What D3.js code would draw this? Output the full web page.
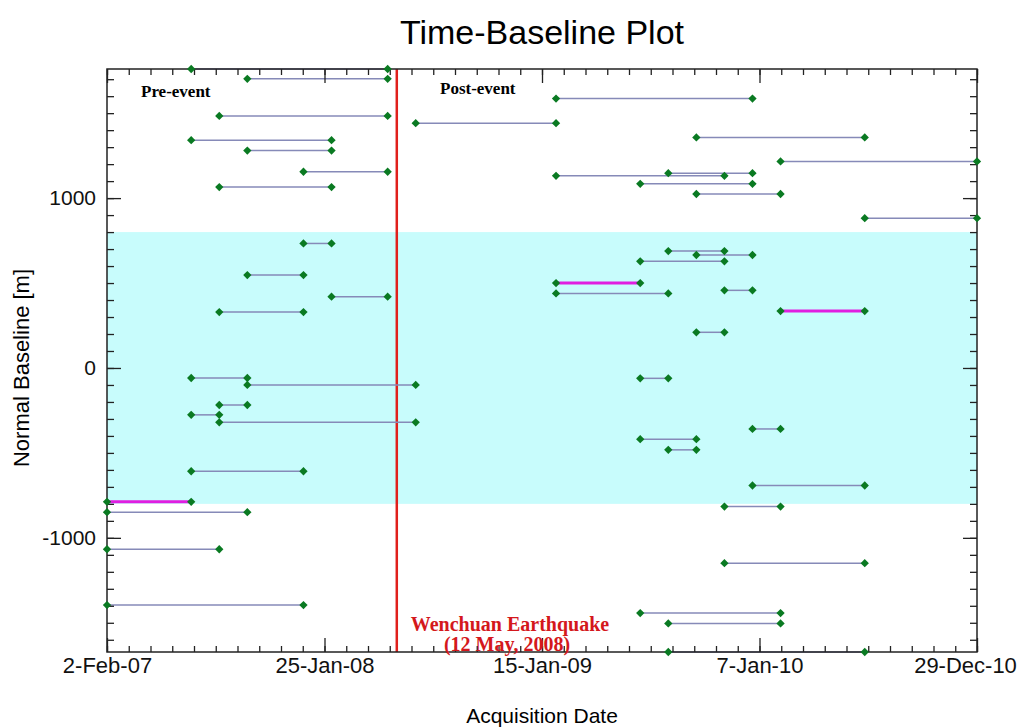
<!DOCTYPE html>
<html>
<head>
<meta charset="utf-8">
<script src="https://cdn.jsdelivr.net/npm/d3@7"></script>
<style>
	body { margin: 0; background: #fff; }
</style>
</head>
<body>
<svg id="chart"></svg>
<script>
// interferometric pairs: master date, slave date, normal baseline (m)
const MASTER = [
	"2007-06-20", "2007-09-20", "2007-08-05", "2007-06-20", "2007-09-20", "2007-12-21",
	"2007-08-05", "2007-12-21", "2007-09-20", "2008-02-05", "2007-08-05", "2007-06-20",
	"2007-09-20", "2007-08-05", "2007-06-20", "2007-08-05", "2007-06-20", "2007-02-02",
	"2007-02-02", "2007-02-02", "2007-02-02",
	"2008-06-22", "2009-02-07", "2009-09-25", "2010-02-10", "2009-08-10", "2009-02-07",
	"2009-06-25", "2009-09-25", "2010-06-28", "2009-08-10", "2009-09-25", "2009-06-25",
	"2009-02-07", "2009-11-10", "2009-02-07", "2010-02-10", "2009-09-25", "2009-06-25",
	"2009-12-26", "2009-06-25", "2009-08-10", "2009-12-26", "2009-11-10", "2009-11-10",
	"2009-06-25", "2009-08-10", "2009-08-10"
];
const SLAVE = [
	"2008-05-07", "2008-05-07", "2008-05-07", "2008-02-05", "2008-02-05", "2008-05-07",
	"2008-02-05", "2008-02-05", "2007-12-21", "2008-05-07", "2007-12-21", "2007-09-20",
	"2008-06-22", "2007-09-20", "2007-08-05", "2008-06-22", "2007-12-21", "2007-06-20",
	"2007-09-20", "2007-08-05", "2007-12-21",
	"2009-02-07", "2009-12-26", "2010-06-28", "2010-12-29", "2009-12-26", "2009-11-10",
	"2009-12-26", "2010-02-10", "2010-12-29", "2009-11-10", "2009-12-26", "2009-11-10",
	"2009-06-25", "2009-12-26", "2009-08-10", "2010-06-28", "2009-11-10", "2009-08-10",
	"2010-02-10", "2009-09-25", "2009-09-25", "2010-06-28", "2010-02-10", "2010-06-28",
	"2010-02-10", "2010-02-10", "2010-06-28"
];
const BASELINE = [
	1760, 1702, 1484, 1341, 1280, 1155,
	1065, 733, 547, 420, 329, -59,
	-100, -218, -276, -320, -608, -788,
	-849, -1067, -1396,
	1441, 1586, 1357, 1216, 1147, 1131,
	1084, 1024, 882, 688, 665, 628,
	500, 457, 439, 335, 210, -61,
	-359, -419, -482, -692, -816, -1149,
	-1443, -1504, -1672
];
// pairs drawn in magenta
const SELECTED = [17, 33, 36];

const X_DOMAIN = ["2007-02-02", "2010-12-29"];
const X_TICK_LABELS = ["2-Feb-07", "25-Jan-08", "15-Jan-09", "7-Jan-10", "29-Dec-10"];
const Y_DOMAIN = [-1672, 1760];
const Y_TICKS = [-1000, 0, 1000];
const COHERENCE_BAND = [-800, 800];
const EVENT_DATE = "2008-05-22"; // position of the red line as drawn
const EVENT_LABEL = ["Wenchuan Earthquake", "(12 May, 2008)"];

const width = 1026;
const height = 727;
const plotLeft = 107, plotRight = 977, plotTop = 69, plotBottom = 652;

const parse = d3.utcParse("%Y-%m-%d");

const x = d3.scaleUtc()
	.domain(X_DOMAIN.map(parse))
	.range([plotLeft, plotRight]);
const y = d3.scaleLinear()
	.domain(Y_DOMAIN)
	.range([plotBottom, plotTop]);

const svg = d3.select("#chart")
	.attr("width", width)
	.attr("height", height)
	.attr("font-family", "'Liberation Sans', Arial, sans-serif");

//title
svg.append("text")
	.attr("x", (plotLeft + plotRight) / 2)
	.attr("y", 44)
	.attr("text-anchor", "middle")
	.attr("font-size", 34)
	.text("Time-Baseline Plot");

//band of usable baselines
svg.append("rect")
	.attr("x", plotLeft)
	.attr("y", y(COHERENCE_BAND[1]))
	.attr("width", plotRight - plotLeft)
	.attr("height", y(COHERENCE_BAND[0]) - y(COHERENCE_BAND[1]))
	.attr("fill", "#c8fcfc");

//earthquake line
svg.append("line")
	.attr("x1", x(parse(EVENT_DATE)))
	.attr("x2", x(parse(EVENT_DATE)))
	.attr("y1", plotTop)
	.attr("y2", plotBottom)
	.attr("stroke", "#e0201c")
	.attr("stroke-width", 2.5);

const I = d3.range(BASELINE.length);

//pair lines, normal first then selected on top
const order = I.filter((i) => !SELECTED.includes(i)).concat(SELECTED);
svg.append("g")
	.selectAll("line")
	.data(order)
	.join("line")
	.attr("x1", (i) => x(parse(MASTER[i])))
	.attr("x2", (i) => x(parse(SLAVE[i])))
	.attr("y1", (i) => y(BASELINE[i]))
	.attr("y2", (i) => y(BASELINE[i]))
	.attr("stroke", (i) => SELECTED.includes(i) ? "#e01ee0" : "#868ab8")
	.attr("stroke-width", (i) => SELECTED.includes(i) ? 3 : 1.5);

//frame
svg.append("rect")
	.attr("x", plotLeft)
	.attr("y", plotTop)
	.attr("width", plotRight - plotLeft)
	.attr("height", plotBottom - plotTop)
	.attr("fill", "none")
	.attr("stroke", "#222")
	.attr("stroke-width", 1.5);

// ticks, all pointing inward
const [d0, d1] = x.domain();
const xMajor = d3.range(5).map((k) => new Date(+d0 + k * (d1 - d0) / 4));
const xMinor = d3.range(41).map((k) => new Date(+d0 + k * (d1 - d0) / 40));
const yMinor = d3.range(-1600, 1800, 100);

function styleAxis(g) {
	g.select(".domain").remove();
	g.selectAll("line").attr("stroke", "#222").attr("stroke-width", 1.3);
}

function styleLabels(size) {
	return (g) => g.selectAll("text")
		.attr("font-size", size)
		.attr("fill", "#111")
		.attr("font-family", "'Liberation Sans', Arial, sans-serif");
}

svg.append("g")
	.attr("transform", `translate(0,${plotBottom})`)
	.call(d3.axisBottom(x).tickValues(xMinor).tickSize(-6).tickFormat(""))
	.call(styleAxis);
svg.append("g")
	.attr("transform", `translate(0,${plotTop})`)
	.call(d3.axisTop(x).tickValues(xMinor).tickSize(-6).tickFormat(""))
	.call(styleAxis);
svg.append("g")
	.attr("transform", `translate(0,${plotTop})`)
	.call(d3.axisTop(x).tickValues(xMajor).tickSize(-14).tickFormat(""))
	.call(styleAxis);
svg.append("g")
	.attr("transform", `translate(0,${plotBottom})`)
	.call(d3.axisBottom(x).tickValues(xMajor).tickSize(-14).tickPadding(5)
		.tickFormat((d, i) => X_TICK_LABELS[i]))
	.call(styleAxis)
	.call(styleLabels(22))
	// last label is pulled in so it stays on the page
	.call((g) => g.selectAll(".tick:last-of-type text").attr("dx", -12));

svg.append("g")
	.attr("transform", `translate(${plotLeft},0)`)
	.call(d3.axisLeft(y).tickValues(yMinor).tickSize(-7).tickFormat(""))
	.call(styleAxis);
svg.append("g")
	.attr("transform", `translate(${plotRight},0)`)
	.call(d3.axisRight(y).tickValues(yMinor).tickSize(-7).tickFormat(""))
	.call(styleAxis);
svg.append("g")
	.attr("transform", `translate(${plotRight},0)`)
	.call(d3.axisRight(y).tickValues(Y_TICKS).tickSize(-14).tickFormat(""))
	.call(styleAxis);
svg.append("g")
	.attr("transform", `translate(${plotLeft},0)`)
	.call(d3.axisLeft(y).tickValues(Y_TICKS).tickSize(-14).tickPadding(11)
		.tickFormat((d) => String(d)))
	.call(styleAxis)
	.call(styleLabels(21));

//axis titles
svg.append("text")
	.attr("x", (plotLeft + plotRight) / 2)
	.attr("y", 723)
	.attr("text-anchor", "middle")
	.attr("font-size", 21)
	.text("Acquisition Date");
svg.append("text")
	.attr("transform", `translate(29,368) rotate(-90)`)
	.attr("text-anchor", "middle")
	.attr("font-size", 22)
	.text("Normal Baseline [m]");

//acquisition points at both ends of each pair
const diamond = d3.symbol(d3.symbolDiamond2, 44);
const ends = I.flatMap((i) => [[MASTER[i], BASELINE[i]], [SLAVE[i], BASELINE[i]]]);
svg.append("g")
	.selectAll("path")
	.data(ends)
	.join("path")
	.attr("transform", (d) => `translate(${x(parse(d[0]))},${y(d[1])})`)
	.attr("d", diamond)
	.attr("fill", "#0a7a22");

//annotations
const serif = "'Liberation Serif', 'Times New Roman', serif";
svg.append("text")
	.attr("x", 141)
	.attr("y", 97)
	.attr("font-family", serif)
	.attr("font-weight", "bold")
	.attr("font-size", 17)
	.text("Pre-event");
svg.append("text")
	.attr("x", 440)
	.attr("y", 94)
	.attr("font-family", serif)
	.attr("font-weight", "bold")
	.attr("font-size", 17)
	.text("Post-event");
svg.append("g")
	.attr("font-family", serif)
	.attr("font-weight", "bold")
	.attr("font-size", 20)
	.attr("fill", "#d4181c")
	.attr("text-anchor", "middle")
	.selectAll("text")
	.data(EVENT_LABEL)
	.join("text")
	.attr("x", (d, i) => i ? 507 : 510)
	.attr("y", (d, i) => 631 + i * 20)
	.text((d) => d);
</script>
</body>
</html>
